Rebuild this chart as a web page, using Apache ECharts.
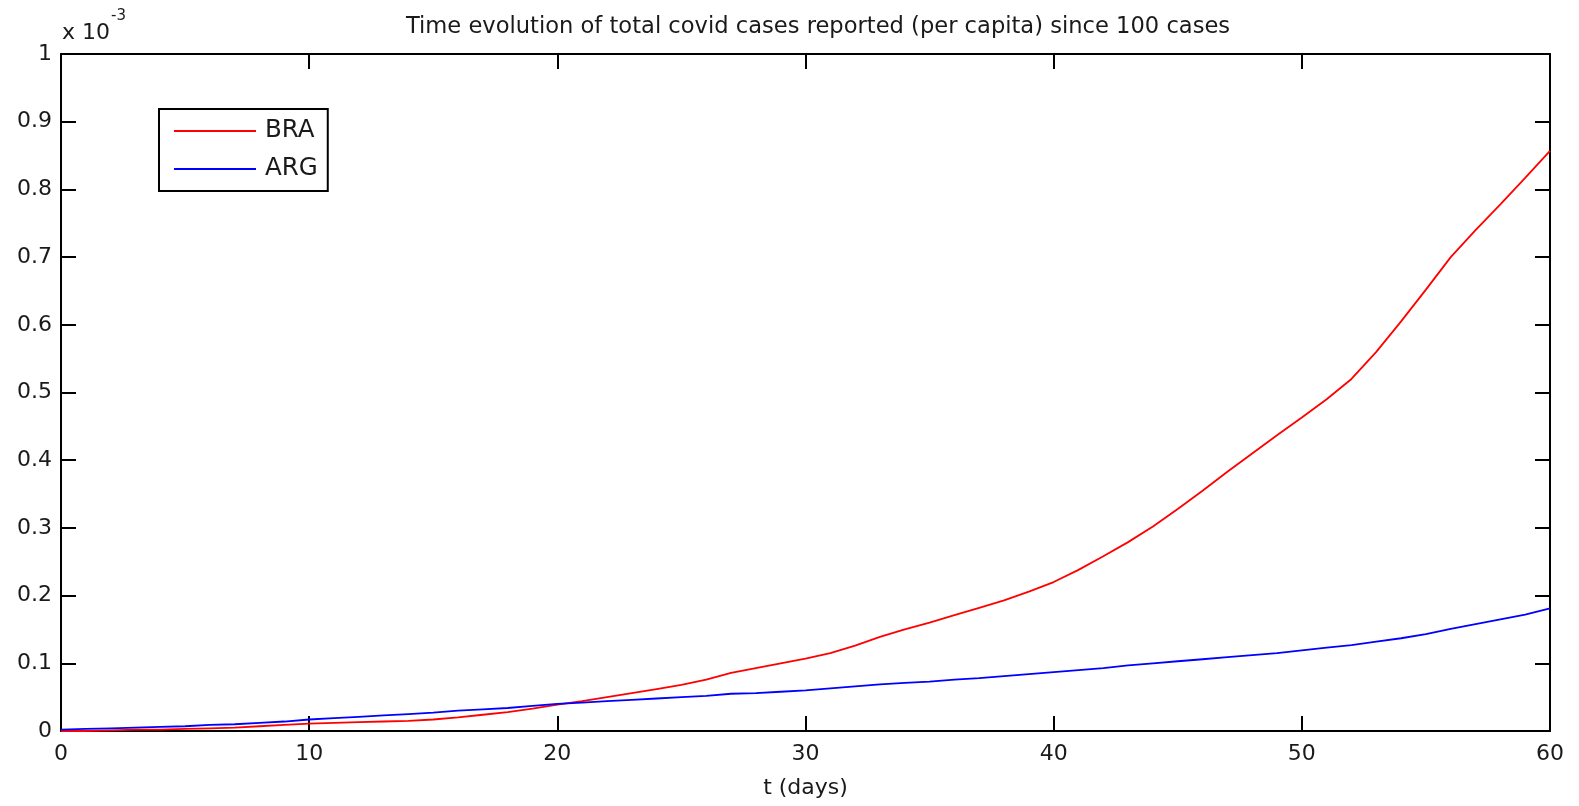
<!DOCTYPE html>
<html>
<head>
<meta charset="utf-8">
<script src="https://cdn.jsdelivr.net/npm/echarts@6/dist/echarts.min.js"></script>
<style>
html,body{margin:0;padding:0;background:#fff;}
#chart{width:1579px;height:806px;}
</style>
</head>
<body>
<div id="chart"></div>
<script>
// days since 100 cases
const days = [];
for (let d = 0; d <= 60; d++) days.push(d);

// total cases per capita, in units of 1e-3
const bra = [0.000,0.000,0.001,0.002,0.002,0.003,0.004,0.005,0.007,0.009,
             0.011,0.012,0.013,0.014,0.015,0.017,0.020,0.024,0.028,0.033,
             0.039,0.044,0.050,0.056,0.062,0.068,0.076,0.086,0.093,0.100,
             0.107,0.115,0.126,0.139,0.150,0.160,0.171,0.182,0.193,0.206,
             0.220,0.238,0.258,0.279,0.302,0.328,0.355,0.383,0.410,0.437,
             0.463,0.490,0.520,0.560,0.605,0.652,0.700,0.740,0.778,0.817,
             0.857];
const arg = [0.002,0.003,0.004,0.005,0.006,0.007,0.009,0.010,0.012,0.014,
             0.017,0.019,0.021,0.023,0.025,0.027,0.030,0.032,0.034,0.037,
             0.040,0.042,0.044,0.046,0.048,0.050,0.052,0.055,0.056,0.058,
             0.060,0.063,0.066,0.069,0.071,0.073,0.076,0.078,0.081,0.084,
             0.087,0.090,0.093,0.097,0.100,0.103,0.106,0.109,0.112,0.115,
             0.119,0.123,0.127,0.132,0.137,0.143,0.151,0.158,0.165,0.172,
             0.181];

const xTicks = [0,10,20,30,40,50,60];
const yTicks = [0,0.1,0.2,0.3,0.4,0.5,0.6,0.7,0.8,0.9,1];

const FONT = 'DejaVu Sans';
const TXT = '#1a1a1a';
const chart = echarts.init(document.getElementById('chart'), null, {renderer:'canvas'});

const axisLine = {show:true, onZero:false, lineStyle:{color:'#000', width:2}};
const axisTick = {show:true, inside:true, length:15, lineStyle:{color:'#000', width:2}};

chart.setOption({
  animation:false,
  backgroundColor:'#fff',
  title:{
    text:'Time evolution of total covid cases reported (per capita) since 100 cases',
    left:813, top:11, textAlign:'center',
    textStyle:{fontFamily:FONT, fontSize:22.6, fontWeight:'normal', color:TXT}
  },
  grid:{left:61, right:29, top:54, bottom:75, containLabel:false},
  legend:{
    orient:'vertical', left:159, top:109,
    data:['BRA','ARG'],
    icon:'rect', itemWidth:82, itemHeight:2, itemGap:10,
    padding:[8,10,8,15],
    borderColor:'#000', borderWidth:2, backgroundColor:'#fff',
    textStyle:{fontFamily:FONT, fontSize:24.5, color:TXT, lineHeight:28, padding:[0,0,0,4]}
  },
  xAxis:[{
    type:'value', min:0, max:60, interval:10, position:'bottom',
    name:'t (days)', nameLocation:'middle', nameGap:46,
    nameTextStyle:{fontFamily:FONT, fontSize:22, color:TXT},
    axisLine, axisTick, splitLine:{show:false},
    axisLabel:{fontFamily:FONT, fontSize:22, color:TXT, margin:12,
      formatter:v=>xTicks.includes(v)?String(v):''}
  },{
    type:'value', min:0, max:60, interval:10, position:'top',
    axisLine, axisTick, splitLine:{show:false}, axisLabel:{show:false}
  }],
  yAxis:[{
    type:'value', min:0, max:1, interval:0.1, position:'left',
    axisLine, axisTick, splitLine:{show:false},
    axisLabel:{fontFamily:FONT, fontSize:22, color:TXT, margin:9,
      formatter:v=>{const r=Math.round(v*10)/10; return yTicks.includes(r)?String(r):'';}}
  },{
    type:'value', min:0, max:1, interval:0.1, position:'right',
    axisLine, axisTick, splitLine:{show:false}, axisLabel:{show:false}
  }],
  series:[
    {name:'BRA', type:'line', showSymbol:false, symbol:'none',
     data:days.map((d,i)=>[d,bra[i]]), lineStyle:{color:'#ff0000', width:1.8}, itemStyle:{color:'#ff0000'}},
    {name:'ARG', type:'line', showSymbol:false, symbol:'none',
     data:days.map((d,i)=>[d,arg[i]]), lineStyle:{color:'#0000ff', width:1.8}, itemStyle:{color:'#0000ff'}}
  ],
  graphic:[
    {type:'text', left:62, top:22, style:{text:'x 10', fontFamily:FONT, fontSize:22, fill:TXT}},
    {type:'text', left:111, top:9, style:{text:'-3', fontFamily:FONT, fontSize:15, fill:TXT}}
  ]
});
</script>
</body>
</html>
